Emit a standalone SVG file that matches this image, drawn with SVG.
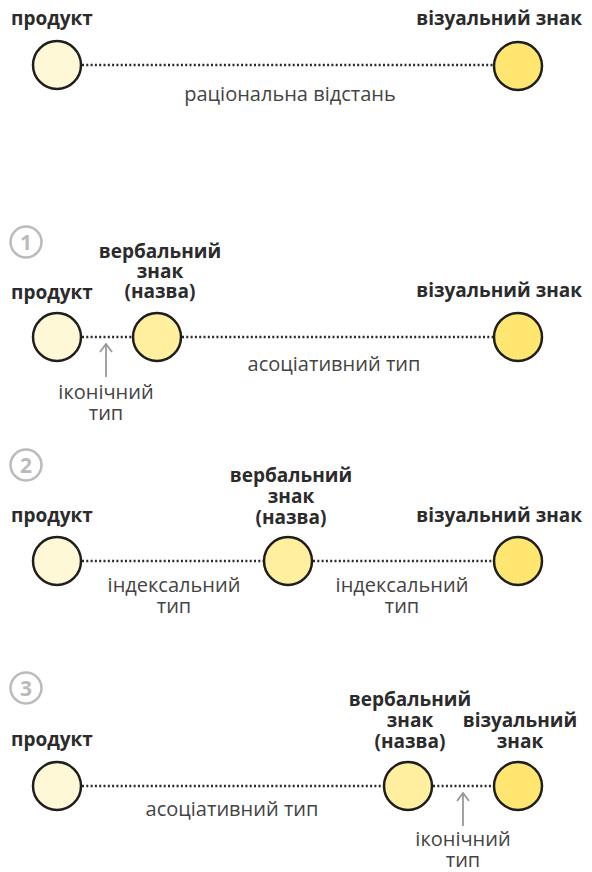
<svg xmlns="http://www.w3.org/2000/svg" width="592" height="872" viewBox="0 0 592 872">
<defs>
<style>
.b{font-family:"Open Sans","Noto Sans",sans-serif;font-weight:700;font-size:19px;fill:#2b2b2b}
.r{font-family:"Open Sans","Noto Sans",sans-serif;font-size:20px;fill:#444}
.m{text-anchor:middle}
.e{text-anchor:end}
.n{fill:none;stroke:#bbb;stroke-width:2.5}
.nt{font-family:"Open Sans","Noto Sans",sans-serif;font-weight:700;font-size:21px;fill:#bbb;text-anchor:middle}
.c{stroke:#1e1e1e;stroke-width:2.5}
.p{fill:#fff8d6}
.v{fill:#ffef9e}
.s{fill:#ffe670}
.d{stroke:#2a2a2a;stroke-width:2.5;stroke-dasharray:2 2.3;fill:none}
.a{stroke:#999;stroke-width:1.8;fill:none}
</style>
</defs>
<g id="connectors">
<line class="d" x1="82" y1="65" x2="494" y2="65"/>
<line class="d" x1="82" y1="337" x2="133" y2="337"/>
<line class="d" x1="182" y1="337" x2="494" y2="337"/>
<path class="a" d="M106 377V345M100 352L106 344L112 352"/>
<line class="d" x1="82" y1="561" x2="264" y2="561"/>
<line class="d" x1="313" y1="561" x2="494" y2="561"/>
<line class="d" x1="82" y1="786" x2="384" y2="786"/>
<line class="d" x1="433" y1="786" x2="494" y2="786"/>
<path class="a" d="M463 826V794M457 801L463 793L469 801"/>
</g>
<g id="s0">
<g id="s0-product"><circle class="c p" cx="57" cy="65" r="24"/><text class="b" x="11" y="25">продукт</text></g>
<g id="s0-visual"><circle class="c s" cx="518" cy="66" r="24"/><text class="b e" x="582" y="25">візуальний знак</text></g>
<text class="r m" x="290" y="101">раціональна відстань</text>
</g>
<g id="s1">
<g id="s1-num"><circle class="n" cx="26" cy="242" r="15.5"/><text class="nt" x="26" y="250">1</text></g>
<g id="s1-product"><circle class="c p" cx="57" cy="337" r="24"/><text class="b" x="11" y="299">продукт</text></g>
<g id="s1-verbal"><circle class="c v" cx="157" cy="337" r="24"/><text class="b m"><tspan x="160" y="258">вербальний</tspan><tspan x="160" y="278">знак</tspan><tspan x="160" y="298">(назва)</tspan></text></g>
<g id="s1-visual"><circle class="c s" cx="518" cy="337" r="24"/><text class="b e" x="582" y="297">візуальний знак</text></g>
<text class="r m"><tspan x="106" y="399">іконічний</tspan><tspan x="106" y="420">тип</tspan></text>
<text class="r m" x="334" y="371">асоціативний тип</text>
</g>
<g id="s2">
<g id="s2-num"><circle class="n" cx="26" cy="465" r="15.5"/><text class="nt" x="26" y="473">2</text></g>
<g id="s2-product"><circle class="c p" cx="57" cy="561" r="24"/><text class="b" x="11" y="522">продукт</text></g>
<g id="s2-verbal"><circle class="c v" cx="288" cy="561" r="24"/><text class="b m"><tspan x="291" y="482">вербальний</tspan><tspan x="291" y="503">знак</tspan><tspan x="291" y="524">(назва)</tspan></text></g>
<g id="s2-visual"><circle class="c s" cx="518" cy="561" r="24"/><text class="b e" x="582" y="522">візуальний знак</text></g>
<text class="r m"><tspan x="174" y="592">індексальний</tspan><tspan x="174" y="613">тип</tspan></text>
<text class="r m"><tspan x="402" y="592">індексальний</tspan><tspan x="402" y="613">тип</tspan></text>
</g>
<g id="s3">
<g id="s3-num"><circle class="n" cx="26" cy="688" r="15.5"/><text class="nt" x="26" y="696">3</text></g>
<g id="s3-product"><circle class="c p" cx="57" cy="786" r="24"/><text class="b" x="11" y="746">продукт</text></g>
<g id="s3-verbal"><circle class="c v" cx="408" cy="786" r="24"/><text class="b m"><tspan x="410" y="706">вербальний</tspan><tspan x="410" y="727">знак</tspan><tspan x="410" y="748">(назва)</tspan></text></g>
<g id="s3-visual"><circle class="c s" cx="518" cy="786" r="24"/><text class="b m"><tspan x="520" y="727">візуальний</tspan><tspan x="520" y="748">знак</tspan></text></g>
<text class="r m"><tspan x="463" y="846">іконічний</tspan><tspan x="463" y="867">тип</tspan></text>
<text class="r m" x="232" y="816">асоціативний тип</text>
</g>
</svg>
